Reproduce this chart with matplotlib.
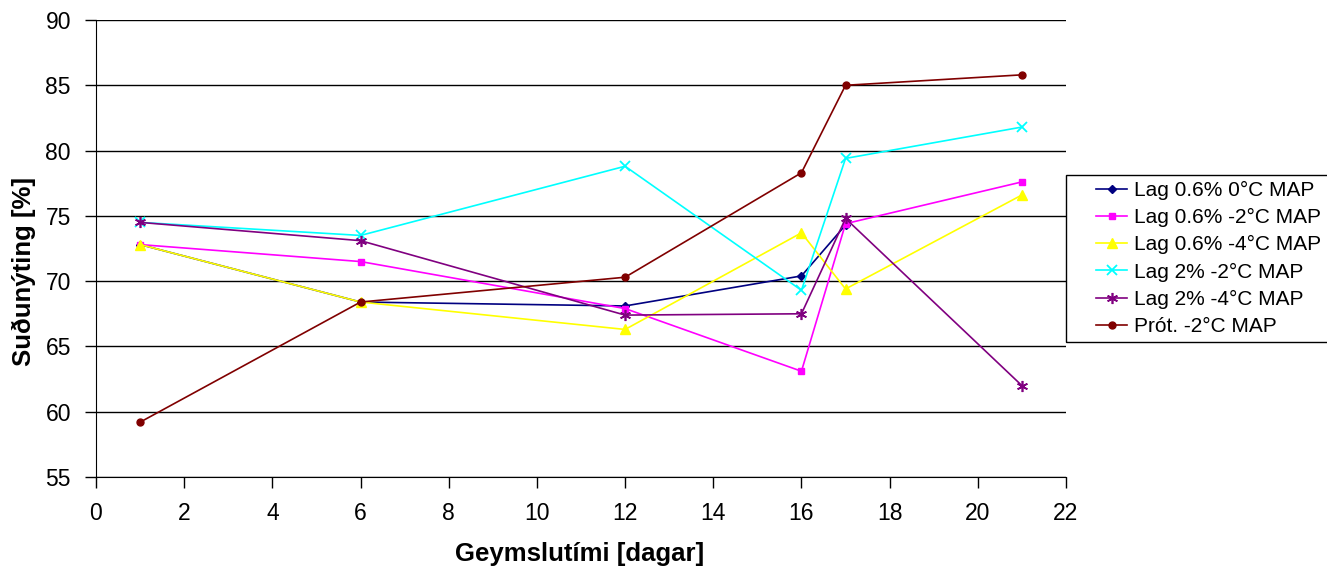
import matplotlib
matplotlib.use("Agg")
import matplotlib.pyplot as plt
from matplotlib.patches import Rectangle

plt.rcParams['font.family'] = ['Liberation Sans', 'DejaVu Sans']

# Storage days per series
days_blue = [1, 6, 12, 16, 17]
days_all = [1, 6, 12, 16, 17, 21]

lag06_0 = [72.8, 68.4, 68.1, 70.4, 74.3]
lag06_m2 = [72.8, 71.5, 67.9, 63.1, 74.4, 77.6]
lag06_m4 = [72.8, 68.4, 66.3, 73.7, 69.4, 76.6]
lag2_m2 = [74.5, 73.5, 78.8, 69.3, 79.4, 81.8]
lag2_m4 = [74.5, 73.1, 67.4, 67.5, 74.8, 62.0]
prot_m2 = [59.2, 68.4, 70.3, 78.3, 85.0, 85.8]

labels = ["Lag 0.6% 0°C MAP", "Lag 0.6% -2°C MAP", "Lag 0.6% -4°C MAP",
          "Lag 2% -2°C MAP", "Lag 2% -4°C MAP", "Prót. -2°C MAP"]

W, H = 1327, 567
fig = plt.figure(figsize=(W / 100, H / 100), dpi=100)
ax = fig.add_axes([96 / W, 1 - 477 / H, (1066 - 96) / W, (477 - 20) / H])

for y in range(55, 91, 5):
    ax.axhline(y, color='black', linewidth=1, zorder=0)

ax.plot(days_blue, lag06_0, color='#000080', marker='D', markersize=4.5, lw=1.2, label=labels[0])
ax.plot(days_all, lag06_m2, color='#FF00FF', marker='s', markersize=5, lw=1.2, label=labels[1])
ax.plot(days_all, lag06_m4, color='#FFFF00', marker='^', markersize=7, lw=1.2, label=labels[2])
ax.plot(days_all, lag2_m2, color='#00FFFF', marker='x', markersize=7, mew=1.3, lw=1.2, label=labels[3])
ax.plot(days_all, lag2_m4, color='#800080', marker=(6, 2, 0), markersize=8, mew=1.2, lw=1.2, label=labels[4])
ax.plot(days_all, prot_m2, color='#800000', marker='o', markersize=5, lw=1.2, label=labels[5])

ax.set_xlim(0, 22)
ax.set_ylim(55, 90)
ax.set_xticks(range(0, 23, 2))
ax.set_yticks(range(55, 91, 5))
ax.tick_params(labelsize=16.5, direction='out', length=8, width=1)
ax.tick_params(axis='x', pad=10)
ax.tick_params(axis='y', pad=10)
for s in ['top', 'right']:
    ax.spines[s].set_visible(False)

ax.set_xlabel("Geymslutími [dagar]", fontsize=18.5, fontweight='bold')
ax.set_ylabel("Suðunýting [%]", fontsize=18.5, fontweight='bold')
ax.xaxis.set_label_coords(0.499, -0.142)
ax.yaxis.set_label_coords(-0.062, 0.449)

# legend frame drawn separately (wider left padding than matplotlib gives)
fig.patches.append(Rectangle((1066 / W, 1 - 342 / H), (1330 - 1066) / W, (342 - 175) / H,
                             transform=fig.transFigure, fill=False, edgecolor='black',
                             linewidth=1))
fig.legend(loc='upper left', bbox_to_anchor=(1096 / W, 1 - 181 / H),
           fontsize=15, frameon=False, borderpad=0, borderaxespad=0,
           handlelength=1.5, labelspacing=0.39, handletextpad=0.3)

fig.savefig("out.png", dpi=100)
